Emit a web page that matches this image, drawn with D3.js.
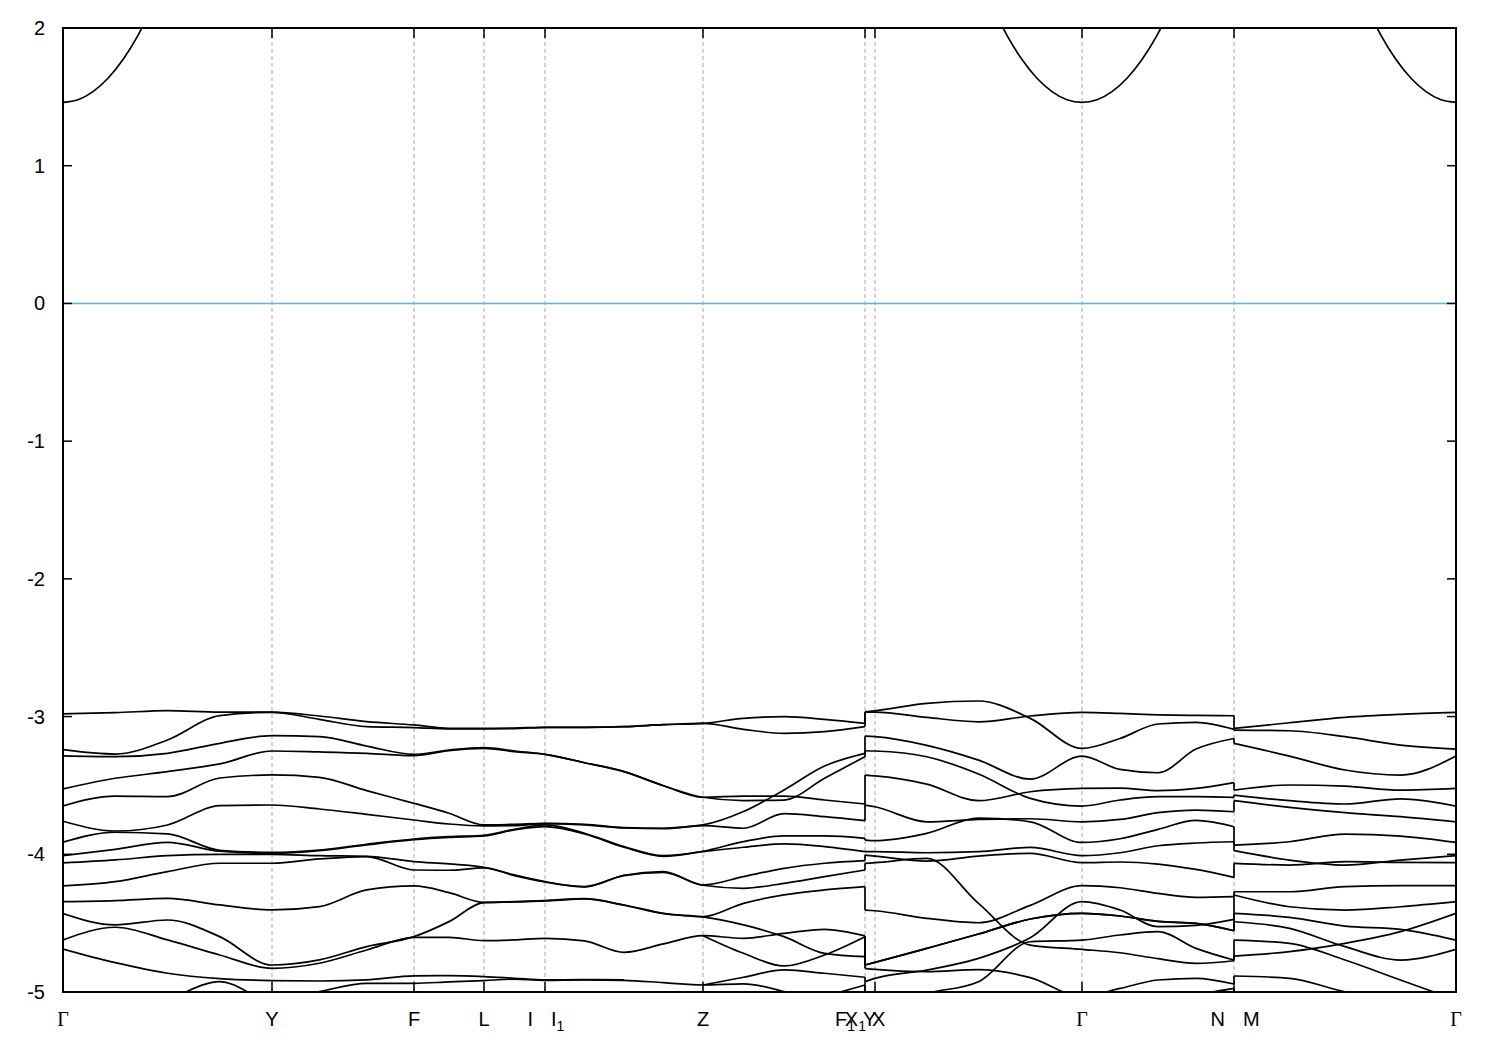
<!DOCTYPE html>
<html><head><meta charset="utf-8">
<script src="https://cdn.jsdelivr.net/npm/d3@7"></script>
<style>body{margin:0;background:#fff}</style>
</head><body>
<svg id="chart" width="1500" height="1050"></svg>
<script>
// ---- data ----
const kTicks = [0, 0.5225, 0.8775, 1.0525, 1.2050, 1.6000, 2.0050, 2.0300, 2.5475, 2.9275, 3.4825];
const kLabels = ["Γ","Y","F","L","I|I_1","Z","F_1|Y","X_1|X","Γ","N|M","Γ"];
const segSteps = [4,3,2,2,4,4,1,4,4,4];
const jumpTicks = [6, 9];
const yTicks = [2,1,0,-1,-2,-3,-4,-5];

const b1 = [-2.980,-2.972,-2.957,-2.967,-2.967,-2.996,-3.037,-3.061,-3.085,-3.085,-3.083,-3.078,-3.078,-3.073,-3.059,-3.049,-3.013,-3.001,-3.020,-3.049,-2.965,-2.958,-2.904,-2.887,-3.013,-3.231,-3.159,-3.054,-3.042,-3.093,-3.098,-3.103,-3.146,-3.207,-3.236];
const b2 = [-3.240,-3.272,-3.170,-2.993,-2.969,-3.020,-3.073,-3.080,-3.090,-3.090,-3.088,-3.078,-3.078,-3.073,-3.059,-3.049,-3.093,-3.122,-3.110,-3.073,-2.967,-2.967,-3.006,-3.038,-2.996,-2.970,-2.977,-2.987,-2.992,-2.994,-3.086,-3.045,-3.006,-2.984,-2.970];
const b3 = [-3.285,-3.291,-3.267,-3.194,-3.139,-3.146,-3.214,-3.274,-3.243,-3.226,-3.250,-3.274,-3.335,-3.400,-3.502,-3.586,-3.577,-3.577,-3.606,-3.635,-3.643,-3.655,-3.764,-3.747,-3.742,-3.764,-3.747,-3.698,-3.679,-3.691,-3.611,-3.659,-3.698,-3.727,-3.764];
const b4 = [-3.525,-3.448,-3.400,-3.344,-3.250,-3.257,-3.267,-3.284,-3.247,-3.231,-3.255,-3.274,-3.335,-3.400,-3.502,-3.586,-3.610,-3.606,-3.448,-3.291,-3.248,-3.250,-3.292,-3.417,-3.594,-3.650,-3.606,-3.582,-3.582,-3.587,-3.570,-3.611,-3.635,-3.597,-3.650];
const b5 = [-3.648,-3.577,-3.581,-3.446,-3.424,-3.441,-3.538,-3.630,-3.702,-3.787,-3.782,-3.775,-3.782,-3.806,-3.811,-3.787,-3.690,-3.533,-3.359,-3.267,-3.142,-3.146,-3.209,-3.316,-3.454,-3.287,-3.384,-3.408,-3.236,-3.159,-3.195,-3.287,-3.388,-3.425,-3.287];
const b6 = [-3.760,-3.831,-3.787,-3.647,-3.642,-3.671,-3.710,-3.751,-3.780,-3.794,-3.792,-3.777,-3.787,-3.809,-3.814,-3.792,-3.811,-3.705,-3.727,-3.756,-3.425,-3.430,-3.490,-3.611,-3.546,-3.522,-3.519,-3.538,-3.522,-3.480,-3.534,-3.497,-3.505,-3.534,-3.522];
const b7 = [-3.912,-3.840,-3.852,-3.971,-3.986,-3.969,-3.927,-3.889,-3.872,-3.862,-3.819,-3.787,-3.847,-3.944,-4.010,-3.978,-3.908,-3.867,-3.867,-3.884,-3.897,-3.901,-3.848,-3.737,-3.764,-3.914,-3.887,-3.819,-3.754,-3.800,-3.933,-3.909,-3.853,-3.868,-3.914];
const b8 = [-4.010,-3.964,-3.913,-3.978,-3.993,-3.974,-3.932,-3.894,-3.877,-3.867,-3.823,-3.799,-3.852,-3.949,-4.015,-3.981,-3.949,-3.925,-3.944,-3.981,-3.981,-3.981,-3.989,-3.981,-3.950,-4.010,-3.989,-3.938,-3.918,-3.909,-3.974,-4.042,-4.078,-4.042,-4.010];
const b9 = [-4.063,-4.041,-4.010,-4.000,-4.000,-4.010,-4.015,-4.053,-4.070,-4.094,-4.150,-4.199,-4.235,-4.152,-4.126,-4.223,-4.162,-4.102,-4.065,-4.046,-4.006,-4.013,-4.049,-4.013,-3.993,-4.061,-4.056,-4.071,-4.110,-4.168,-4.066,-4.078,-4.054,-4.059,-4.061];
const b10 = [-4.229,-4.199,-4.126,-4.065,-4.065,-4.034,-4.017,-4.114,-4.116,-4.099,-4.155,-4.201,-4.237,-4.155,-4.131,-4.225,-4.247,-4.211,-4.162,-4.114,-4.066,-4.061,-4.030,-4.356,-4.659,-4.690,-4.715,-4.758,-4.792,-4.773,-4.739,-4.707,-4.647,-4.562,-4.429];
const b11 = [-4.344,-4.336,-4.320,-4.368,-4.404,-4.380,-4.259,-4.230,-4.278,-4.349,-4.344,-4.336,-4.322,-4.368,-4.428,-4.453,-4.356,-4.295,-4.259,-4.235,-4.405,-4.410,-4.465,-4.497,-4.371,-4.228,-4.243,-4.284,-4.313,-4.308,-4.272,-4.272,-4.235,-4.228,-4.228];
const b12 = [-4.431,-4.513,-4.477,-4.598,-4.804,-4.767,-4.670,-4.598,-4.489,-4.351,-4.346,-4.339,-4.324,-4.370,-4.431,-4.455,-4.513,-4.598,-4.719,-4.743,-4.804,-4.785,-4.683,-4.579,-4.470,-4.429,-4.448,-4.487,-4.502,-4.555,-4.429,-4.458,-4.521,-4.545,-4.623];
const b13 = [-4.622,-4.530,-4.622,-4.731,-4.828,-4.791,-4.695,-4.603,-4.603,-4.627,-4.622,-4.610,-4.629,-4.712,-4.651,-4.591,-4.610,-4.574,-4.545,-4.593,-4.804,-4.785,-4.683,-4.579,-4.470,-4.429,-4.448,-4.487,-4.502,-4.555,-4.490,-4.538,-4.671,-4.768,-4.690];
const b14 = [-4.688,-4.787,-4.864,-4.903,-4.917,-4.920,-4.912,-4.883,-4.881,-4.888,-4.900,-4.912,-4.910,-4.912,null,-4.591,-4.719,-4.811,-4.731,-4.598,-4.828,-4.836,-4.853,-4.838,-4.896,-5.034,-4.974,-4.913,-4.901,-4.942,-4.884,-4.901,-4.998,-5.058,-5.131];
const b15 = [-5.150,-5.130,-5.050,-4.925,-5.060,-4.997,-4.937,-4.937,-4.927,-4.917,-4.907,-4.915,-4.912,-4.915,-4.932,-4.949,-4.941,-4.997,-5.094,-5.179,null,null,null,null,null,null,-5.131,-5.082,-5.022,-4.974,-5.155,null,null,null,null];
const b16 = [null,null,null,null,null,null,null,null,null,null,null,null,null,null,null,-4.949,-4.893,-4.840,-4.864,-4.893,-4.925,-4.901,-4.841,-4.756,-4.606,-4.344,-4.405,-4.526,-4.516,-4.473,-4.296,-4.381,-4.405,-4.381,-4.344];
const b17 = [null,null,null,null,null,null,null,null,null,null,null,null,null,null,null,null,null,null,-5.033,-4.949,-5.131,-5.131,-5.010,-4.925,-4.635,-4.623,-4.586,-4.562,-4.683,-4.768,-4.623,-4.647,-4.768,-4.913,-5.058];
const valenceBands = [b1,b2,b3,b4,b5,b6,b7,b8,b9,b10,b11,b12,b13,b14,b15,b16,b17];

// conduction band around each Γ point: distance from Γ and energy
const cbDk = [0, 0.0375, 0.075, 0.1125, 0.15, 0.1875, 0.225];
const cbE  = [1.46, 1.479, 1.538, 1.635, 1.771, 1.947, 2.161];

// ---- sampling grid along the path ----
const kSamples = [kTicks[0]];
const jumpIdx = new Set();
segSteps.forEach((n, s) => {
  if (jumpTicks.includes(s)) { jumpIdx.add(kSamples.length); kSamples.push(kTicks[s]); }
  for (let j = 1; j <= n; j++) kSamples.push(kTicks[s] + (kTicks[s+1] - kTicks[s]) * j / n);
});

// ---- layout ----
const L = 63, R = 1456, T = 28, B = 992;
const svg = d3.select("#chart");
const x = d3.scaleLinear().domain([kTicks[0], kTicks[kTicks.length-1]]).range([L, R]);
const y = d3.scaleLinear().domain([-5, 2]).range([B, T]);
const sans = "'Liberation Sans', Arial, sans-serif";
const serif = "'Liberation Serif', 'Times New Roman', serif";
const bandWidth = 1.7;

svg.append("defs").append("clipPath").attr("id","plotclip")
  .append("rect").attr("x", L).attr("y", T).attr("width", R-L).attr("height", B-T);

// grid lines
svg.append("g").selectAll("line").data(kTicks.slice(1, -1)).join("line")
  .attr("x1", d => x(d)).attr("x2", d => x(d)).attr("y1", T).attr("y2", B)
  .attr("stroke", "#a8a8a8").attr("stroke-width", 1).attr("stroke-dasharray", "4,3");

// fermi level
svg.append("line").attr("x1", L).attr("x2", R).attr("y1", y(0)).attr("y2", y(0))
  .attr("stroke", "#56b4e9").attr("stroke-width", 1.6);

const plot = svg.append("g").attr("clip-path", "url(#plotclip)");
const line = d3.line().x(d => x(d[0])).y(d => y(d[1])).curve(d3.curveMonotoneX);

valenceBands.forEach(vals => {
  const runs = []; let cur = [];
  vals.forEach((v, i) => {
    if (jumpIdx.has(i)) {
      if (cur.length) runs.push(cur); cur = [];
      if (v != null && vals[i-1] != null) {
        plot.append("line").attr("x1", x(kSamples[i])).attr("x2", x(kSamples[i]))
          .attr("y1", y(vals[i-1])).attr("y2", y(v))
          .attr("stroke", "#000").attr("stroke-width", bandWidth);
      }
    }
    if (v == null) { if (cur.length) runs.push(cur); cur = []; return; }
    cur.push([kSamples[i], v]);
  });
  if (cur.length) runs.push(cur);
  runs.filter(r => r.length > 1).forEach(r => {
    plot.append("path").attr("d", line(r)).attr("fill", "none")
      .attr("stroke", "#000").attr("stroke-width", bandWidth).attr("stroke-linejoin", "round");
  });
});

// conduction band
kTicks.forEach((k, i) => {
  if (kLabels[i] !== "Γ") return;
  const pts = [];
  if (i > 0) for (let j = cbDk.length - 1; j > 0; j--) pts.push([k - cbDk[j], cbE[j]]);
  pts.push([k, cbE[0]]);
  if (i < kTicks.length - 1) for (let j = 1; j < cbDk.length; j++) pts.push([k + cbDk[j], cbE[j]]);
  plot.append("path").attr("d", line(pts)).attr("fill", "none")
    .attr("stroke", "#000").attr("stroke-width", bandWidth);
});

// border
svg.append("rect").attr("x", L).attr("y", T).attr("width", R-L).attr("height", B-T)
  .attr("fill", "none").attr("stroke", "#000").attr("stroke-width", 2);

// y ticks + labels
yTicks.forEach(v => {
  svg.append("line").attr("x1", L).attr("x2", L+9).attr("y1", y(v)).attr("y2", y(v)).attr("stroke", "#000").attr("stroke-width", 1.5);
  svg.append("line").attr("x1", R-9).attr("x2", R).attr("y1", y(v)).attr("y2", y(v)).attr("stroke", "#000").attr("stroke-width", 1.5);
  svg.append("text").attr("x", 45).attr("y", y(v)).attr("dy", "0.35em")
    .attr("text-anchor", "end").attr("font-family", sans).attr("font-size", 20).text(String(v));
});

// x ticks + labels
const splitOffsets = [null,null,null,null,[-12,6],null,[-10,-2],[-9,-3],null,[-9,9],null];
function writeLabel(textSel, str) {
  let pendingUp = 0;
  str.split(/(_\d)/).filter(s => s.length).forEach(part => {
    if (part[0] === "_") {
      textSel.append("tspan").attr("font-size", 14).attr("dy", 5).text(part.slice(1));
      pendingUp = -5;
    } else {
      const t = textSel.append("tspan").attr("font-family", part === "Γ" ? serif : sans).text(part);
      if (pendingUp) { t.attr("dy", pendingUp); pendingUp = 0; }
    }
  });
}
kTicks.forEach((k, i) => {
  const xp = x(k);
  svg.append("line").attr("x1", xp).attr("x2", xp).attr("y1", B).attr("y2", B-10).attr("stroke", "#000").attr("stroke-width", 1.5);
  svg.append("line").attr("x1", xp).attr("x2", xp).attr("y1", T).attr("y2", T+10).attr("stroke", "#000").attr("stroke-width", 1.5);
  const lab = kLabels[i];
  const ly = 1026;
  if (lab.includes("|")) {
    const [a, b] = lab.split("|");
    const off = splitOffsets[i];
    writeLabel(svg.append("text").attr("x", xp + off[0]).attr("y", ly).attr("text-anchor", "end")
      .attr("font-family", sans).attr("font-size", 20), a);
    writeLabel(svg.append("text").attr("x", xp + off[1]).attr("y", ly).attr("text-anchor", "start")
      .attr("font-family", sans).attr("font-size", 20), b);
  } else {
    writeLabel(svg.append("text").attr("x", xp).attr("y", ly).attr("text-anchor", "middle")
      .attr("font-family", sans).attr("font-size", 20), lab);
  }
});
</script>
</body></html>
